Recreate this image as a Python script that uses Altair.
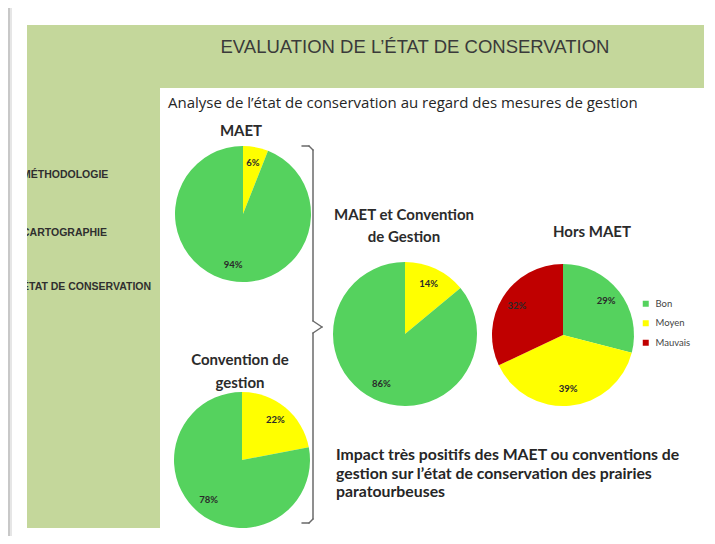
import altair as alt
import pandas as pd

# ---------------- data ----------------
categories = ["Bon", "Moyen", "Mauvais"]
cat_colors = ["#55d25e", "#ffff00", "#c00000"]

maet_cat = ["Moyen", "Bon"]
maet_val = [6, 94]

conv_cat = ["Moyen", "Bon"]
conv_val = [22, 78]

mc_cat = ["Moyen", "Bon"]
mc_val = [14, 86]

hors_cat = ["Bon", "Moyen", "Mauvais"]
hors_val = [29, 39, 32]

menu_items = ["MÉTHODOLOGIE", "CARTOGRAPHIE", "ÉTAT  DE CONSERVATION"]
main_title = "EVALUATION DE L’ÉTAT DE CONSERVATION"
subtitle = "Analyse de  l’état de conservation au regard des mesures de gestion"
conclusion = ["Impact très positifs des MAET ou conventions de",
              "gestion sur l’état de conservation des prairies",
              "paratourbeuses"]

# ---------------- helpers ----------------
OFF = 8  # page margin: image coords -> chart coords
dummy = pd.DataFrame({"d": [0]})
PANEL = "#c4d79b"
INK = "#2b2b2b"


def P(v):
    return v - OFF


def rect(x1, y1, x2, y2, color):
    return alt.Chart(dummy).mark_rect(color=color).encode(
        x=alt.value(P(x1)), x2=alt.value(P(x2)),
        y=alt.value(P(y1)), y2=alt.value(P(y2)))


def seg(x1, y1, x2, y2, color="#6a6a6a", w=1.5):
    return alt.Chart(dummy).mark_rule(color=color, strokeWidth=w, strokeCap="round").encode(
        x=alt.value(P(x1)), x2=alt.value(P(x2)),
        y=alt.value(P(y1)), y2=alt.value(P(y2)))


def txt(s, x, y, size, weight="normal", align="left", font="Lato", color=INK, lh=None):
    kw = dict(text=s, align=align, baseline="middle", fontSize=size,
              fontWeight=weight, font=font, color=color)
    if lh is not None:
        kw["lineHeight"] = lh
    return alt.Chart(dummy).mark_text(**kw).encode(x=alt.value(P(x)), y=alt.value(P(y)))


legend = alt.Legend(orient="none", legendX=P(641), legendY=P(299), title=None,
                    symbolType="square", symbolSize=36, symbolStrokeWidth=0,
                    labelFont="Lato", labelFontSize=9.5, labelColor="#444444",
                    rowPadding=8.5, labelOffset=5)
color_enc = alt.Color("etat:N", scale=alt.Scale(domain=categories, range=cat_colors),
                      legend=legend)


def pie(cats, vals, cx, cy, r):
    df = pd.DataFrame({"etat": cats, "pct": vals, "ordre": list(range(len(cats)))})
    df["label"] = [f"{v}%" for v in vals]
    base = alt.Chart(df).encode(
        theta=alt.Theta("pct:Q", stack=True, scale=alt.Scale(domain=[0, 100])),
        order=alt.Order("ordre:Q"),
        x=alt.value(P(cx)), y=alt.value(P(cy)))
    arc = base.mark_arc(outerRadius=r).encode(color=color_enc)
    lab = base.mark_text(radius=0.77 * r, font="Lato", fontSize=9.5,
                         fontWeight="bold", color="#2a2a2a").encode(text="label:N")
    return [arc, lab]


layers = []

# slide frame shadow
layers.append(seg(9, 8, 9, 544, color="#c8c8c8", w=2))
layers.append(seg(11, 8, 11, 544, color="#e6e6e6", w=2))
layers.append(seg(9, 541, 715, 541, color="#e2e2e2", w=1.5))

# green panels
layers.append(rect(27, 25, 704, 88, PANEL))
layers.append(rect(27, 25, 160, 528, PANEL))

# menu items (clipped on the left by the frame)
for item, yy in zip(menu_items, [175, 233, 287]):
    layers.append(txt(item, 22, yy, 10.5, weight="bold", font="Liberation Sans", color="#2f2f2f"))
layers.append(rect(13, 150, 27, 300, "#ffffff"))

# titles
layers.append(txt(main_title, 415, 47, 18.5, align="center", font="Liberation Sans", color="#3a3a3a"))
layers.append(txt(subtitle, 168, 103, 15, font="Open Sans", color="#262626"))

# pie titles
layers.append(txt("MAET", 241, 131, 15, weight="bold", align="center"))
layers.append(txt(["MAET et Convention", "de Gestion"], 404, 215, 15, weight="bold",
                  align="center", lh=22))
layers.append(txt("Hors MAET", 592, 232, 15, weight="bold", align="center"))
layers.append(txt(["Convention de", "gestion"], 240, 360, 15, weight="bold",
                  align="center", lh=23))

# pies
layers += pie(maet_cat, maet_val, 243, 214, 68)
layers += pie(conv_cat, conv_val, 242, 460, 68)
layers += pie(mc_cat, mc_val, 405, 334, 72)
layers += pie(hors_cat, hors_val, 563, 335, 71)

# brace
layers += [
    seg(302, 146, 309, 146), seg(309, 146, 313, 150), seg(313, 150, 313, 321),
    seg(313, 321, 322, 327), seg(322, 327, 313, 333), seg(313, 333, 313, 519),
    seg(313, 519, 309, 523), seg(309, 523, 302, 523),
]

# conclusion text
for line, yy in zip(conclusion, [455, 474, 492]):
    layers.append(txt(line, 336, yy, 15.8, weight="bold", color="#262626"))

chart = alt.layer(*layers).properties(
    width=699, height=528, padding=0, autosize="none", background="white"
).configure_view(stroke=None)

chart.save("out.html", embed_options={"renderer": "svg", "actions": False})
